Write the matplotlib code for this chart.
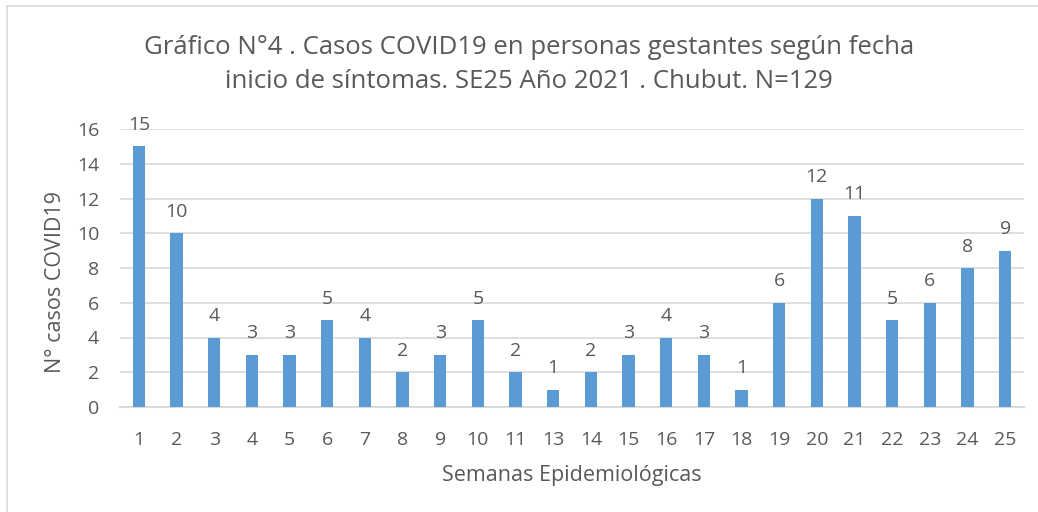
import numpy as np
import matplotlib.pyplot as plt
from matplotlib.lines import Line2D

# Casos COVID19 en personas gestantes por semana epidemiológica

semanas = ['1', '2', '3', '4', '5', '6', '7', '8', '9', '10', '11', '13',
           '14', '15', '16', '17', '18', '19', '20', '21', '22', '23', '24', '25']
casos = [15, 10, 4, 3, 3, 5, 4, 2, 3, 5, 2, 1, 2, 3, 4, 3, 1, 6, 12, 11, 5, 6, 8, 9]
y_ticks = [0, 2, 4, 6, 8, 10, 12, 14, 16]

TEXT = '#595959'
BAR = '#5B9BD5'
GRID = '#D9D9D9'


def save_and_show_result():
    plt.rcParams['font.family'] = ['Open Sans', 'DejaVu Sans']
    fig = plt.figure(figsize=(10.38, 5.12), dpi=100)
    ax = fig.add_axes([120 / 1038, 1 - 407 / 512, (1024 - 120) / 1038, (407 - 129) / 512])

    x = np.arange(len(semanas))
    bars = ax.bar(x, casos, width=0.32, color=BAR, zorder=3)
    ax.bar_label(bars, labels=[str(v) for v in casos], padding=9,
                 fontsize=14, color=TEXT)

    ax.set_xlim(-0.5, len(semanas) - 0.5)
    ax.set_ylim(0, 16)
    ax.set_yticks(y_ticks)
    ax.set_xticks(x)
    ax.set_xticklabels(semanas)
    ax.tick_params(length=0, labelsize=14, colors=TEXT)
    ax.tick_params(axis='x', pad=17)
    ax.tick_params(axis='y', pad=15)
    ax.grid(axis='y', color=GRID, linewidth=1.2, zorder=0)
    for side in ['top', 'right', 'left']:
        ax.spines[side].set_visible(False)
    ax.spines['bottom'].set_color(GRID)
    ax.spines['bottom'].set_linewidth(1.5)

    ax.set_xlabel('Semanas Epidemiológicas', fontsize=15.5, color=TEXT, labelpad=12)
    ax.set_ylabel('N° casos COVID19', fontsize=15.5, color=TEXT)
    ax.yaxis.set_label_coords(-0.060, 0.45)

    fig.text(529 / 1038, 1 - 47 / 512,
             'Gráfico N°4 . Casos COVID19 en personas gestantes según fecha',
             ha='center', va='center', fontsize=18.5, color=TEXT)
    fig.text(529 / 1038, 1 - 82 / 512,
             'inicio de síntomas. SE25 Año 2021 . Chubut. N=129',
             ha='center', va='center', fontsize=18.5, color=TEXT)

    # borde del gráfico
    fig.add_artist(Line2D([7 / 1038, 7 / 1038], [0, 1 - 6 / 512], color=GRID, lw=1.2))
    fig.add_artist(Line2D([7 / 1038, 1], [1 - 6 / 512, 1 - 6 / 512], color=GRID, lw=1.2))

    fig.savefig('out.png', dpi=100)


def main():
    save_and_show_result()


if __name__ == '__main__':
    main()
